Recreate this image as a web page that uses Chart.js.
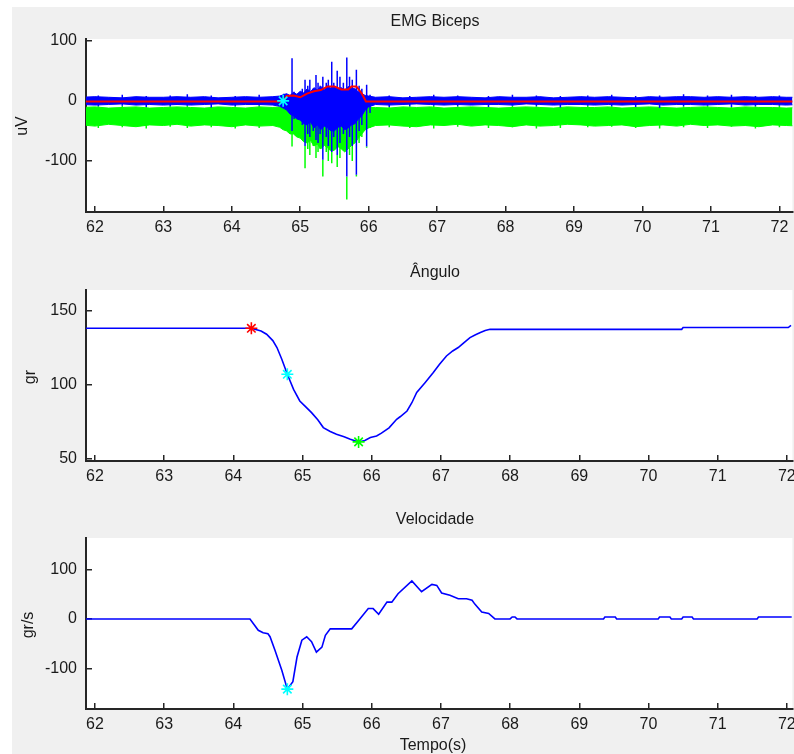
<!DOCTYPE html>
<html>
<head>
<meta charset="utf-8">
<script src="https://cdn.jsdelivr.net/npm/chart.js@4.4.0/dist/chart.umd.min.js"></script>
<style>
  html, body { margin: 0; padding: 0; background: #fff; }
  body { width: 794px; height: 754px; position: relative; overflow: hidden;
         font-family: "Liberation Sans", Arial, sans-serif; color: #1a1a1a; }
  #fig { position: absolute; left: 12px; top: 7px; right: 0; bottom: 0; background: #f0f0f0; }
  canvas { position: absolute; left: 0; }
  .title { position: absolute; font-size: 16px; line-height: 18px; width: 300px; text-align: center; }
  .ylab { position: absolute; font-size: 16px; line-height: 18px; width: 80px; height: 18px;
          text-align: center; transform: rotate(-90deg); }
</style>
</head>
<body>
<div id="fig"></div>
<canvas id="emg" width="800" height="250" style="top:0px"></canvas>
<canvas id="ang" width="800" height="250" style="top:250px"></canvas>
<canvas id="vel" width="800" height="254" style="top:500px"></canvas>

<div class="title" style="left:285px; top:12px;">EMG Biceps</div>
<div class="title" style="left:285px; top:263px;">Ângulo</div>
<div class="title" style="left:285px; top:510px;">Velocidade</div>
<div class="title" style="left:283px; top:736px;">Tempo(s)</div>
<div class="ylab" style="left:-18px; top:117px;">uV</div>
<div class="ylab" style="left:-10px; top:368px;">gr</div>
<div class="ylab" style="left:-12px; top:616px;">gr/s</div>

<script>
// ---- EMG Biceps ----
// envelope of the noise band, time in seconds
const bandT = [61.8, 62.0, 62.2, 62.4, 62.6, 62.8, 63.0, 63.2, 63.4, 63.6, 63.8, 64.0, 64.2, 64.4, 64.6,
  64.70, 64.75, 64.80, 64.85, 64.90, 64.95, 65.00, 65.05, 65.10, 65.15, 65.20, 65.25, 65.30, 65.35,
  65.40, 65.45, 65.50, 65.55, 65.60, 65.65, 65.70, 65.75, 65.80, 65.85, 65.90, 65.95, 66.00,
  66.1, 66.3, 66.5, 66.7, 66.9, 67.1, 67.3, 67.5, 67.7, 67.9, 68.1, 68.3, 68.5, 68.7, 68.9, 69.1,
  69.3, 69.5, 69.7, 69.9, 70.1, 70.3, 70.5, 70.7, 70.9, 71.1, 71.3, 71.5, 71.7, 71.9, 72.1, 72.3];
const blueTop = [6, 7, 6, 5, 7, 6, 6, 7, 6, 7, 5, 6, 7, 6, 7,
  8, 10, 12, 9, 14, 11, 16, 13, 20, 15, 22, 18, 24, 19, 25, 21, 24, 20, 22, 18, 24, 21, 20, 15, 12, 9, 8,
  6, 7, 5, 6, 7, 6, 7, 6, 5, 7, 6, 6, 7, 5, 6, 7, 6, 7, 6, 5, 7, 6, 7, 7, 6, 7, 6, 7, 6, 7, 6, 6];
const blueBot = [-6, -7, -6, -5, -7, -6, -7, -6, -7, -6, -5, -7, -6, -6, -7,
  -9, -12, -15, -22, -25, -30, -32, -38, -40, -35, -45, -40, -48, -42, -45, -50, -50, -44, -42, -48, -45, -40, -38, -30, -25, -15, -10,
  -6, -7, -6, -5, -6, -7, -6, -7, -6, -6, -7, -5, -6, -7, -6, -6, -7, -6, -7, -6, -5, -7, -6, -6, -7, -6, -5, -7, -6, -6, -7, -6];
const greenTop = [-11, -10, -12, -11, -10, -12, -11, -10, -11, -12, -10, -11, -12, -10, -11,
  -10, -10, -10, -10, -10, -10, -10, -10, -10, -10, -10, -10, -10, -10, -10, -10, -10, -10, -10, -10, -10, -10, -10, -10, -10, -10, -11,
  -11, -12, -10, -11, -10, -12, -11, -10, -11, -12, -11, -10, -11, -12, -10, -11, -11, -10, -12, -11, -10, -11, -12, -11, -10, -11, -12, -10, -11, -11, -12, -11];
const greenBot = [-40, -42, -39, -41, -43, -40, -41, -39, -42, -40, -41, -43, -40, -42, -41,
  -44, -48, -50, -55, -55, -60, -62, -68, -70, -66, -75, -72, -80, -74, -78, -84, -82, -76, -80, -85, -80, -74, -70, -62, -55, -48, -45,
  -41, -40, -42, -43, -40, -41, -39, -42, -40, -41, -43, -40, -42, -41, -39, -40, -42, -41, -40, -43, -41, -40, -42, -39, -41, -40, -42, -41, -43, -40, -41, -42];

// small noise spikes outside the burst
const noiseT = [62.05, 62.4, 62.75, 63.1, 63.35, 63.7, 64.05, 64.4, 66.3, 66.6, 66.95, 67.3, 67.75, 68.1,
  68.45, 68.8, 69.2, 69.55, 69.9, 70.25, 70.6, 70.95, 71.3, 71.65, 72.0];
const noiseHi = [9, 10, 8, 9, 11, 9, 8, 10, 9, 8, 10, 9, 8, 10, 9, 8, 9, 10, 8, 9, 11, 9, 10, 8, 9];
const noiseLo = [-9, -8, -10, -9, -8, -11, -9, -8, -10, -9, -8, -9, -10, -8, -9, -11, -8, -9, -10, -12, -9, -8, -10, -9, -8];
const noiseGreenLo = [-45, -44, -46, -43, -45, -44, -46, -45, -44, -45, -46, -43, -45, -44, -46, -45, -44, -43, -45, -46, -44, -45, -43, -46, -44];

// spikes during the contraction burst
const spikeT = [64.76, 64.88, 64.91, 64.97, 65.03, 65.07, 65.11, 65.14, 65.19, 65.23, 65.26, 65.29, 65.33, 65.38,
  65.41, 65.46, 65.49, 65.54, 65.58, 65.63, 65.68, 65.72, 65.76, 65.82, 65.86, 65.90, 65.97, 66.02];
const blueHi = [12, 71, 15, 10, 20, 35, 25, 35, 20, 43, 30, 25, 40, 30, 35, 65, 30, 50, 40, 30, 72, 40, 35, 52, 25, 20, 27, 10];
const blueLo = [-8, -50, -30, -25, -40, -75, -55, -60, -50, -65, -70, -55, -98, -60, -75, -85, -60, -90, -70, -55, -126, -60, -75, -123, -50, -40, -76, -20];
const greenLo = [-45, -76, -50, -45, -60, -112, -80, -90, -75, -95, -85, -80, -126, -85, -100, -104, -80, -110, -95, -80, -164, -90, -100, -126, -70, -60, -78, -45];

// red envelope
const envT = [61.8, 64.75, 64.8, 64.9, 65.0, 65.1, 65.2, 65.3, 65.4, 65.5, 65.6, 65.7, 65.75, 65.82, 65.9, 65.96, 72.3];
const envV = [-1, -1, 8, 9, 6, 12, 16, 18, 24, 24, 19, 19, 24, 24, 12, -1, -1];

const emgOnsetT = [64.75];
const emgOnsetV = [0];

// ---- Ângulo ----
const angT = [61.87, 64.26, 64.40, 64.48, 64.57, 64.63, 64.70, 64.78, 64.87, 64.96, 65.05, 65.13, 65.22, 65.30,
  65.40, 65.49, 65.60, 65.69, 65.81, 65.90, 65.98, 66.07, 66.14, 66.25, 66.36, 66.41, 66.51, 66.58, 66.65,
  66.77, 66.89, 66.98, 67.08, 67.17, 67.25, 67.33, 67.42, 67.50, 67.57, 67.64, 67.71, 70.48, 70.50, 72.02, 72.06];
const angV = [138.3, 138.3, 136.5, 134.3, 130, 125.3, 117.4, 107.2, 97, 89.2, 85, 81.3, 76.5, 71.2,
  68.5, 66.7, 65, 63.3, 61.5, 62.5, 64.5, 65.5, 67.4, 71, 76.8, 78.5, 82.4, 88, 94.9,
  101.5, 108.4, 114, 119.6, 123, 125.3, 128.5, 132, 134, 135.4, 136.8, 137.6, 137.6, 138.8, 138.8, 140.3];
const angStartT = [64.26], angStartV = [138.3];
const angMidT = [64.78], angMidV = [107.2];
const angMinT = [65.81], angMinV = [61.5];

// ---- Velocidade ----
const velT = [61.87, 64.24, 64.36, 64.43, 64.50, 64.53, 64.60, 64.70, 64.78, 64.86, 64.92, 64.99, 65.06, 65.13,
  65.20, 65.28, 65.33, 65.40, 65.71, 65.81, 65.95, 66.02, 66.10, 66.22, 66.29, 66.38, 66.58, 66.72, 66.87,
  66.94, 67.01, 67.13, 67.25, 67.37, 67.45, 67.49, 67.59, 67.69, 67.78, 68.00, 68.03, 68.07, 68.10, 69.35,
  69.37, 69.52, 69.54, 70.14, 70.16, 70.31, 70.33, 70.48, 70.50, 70.63, 70.65, 71.57, 71.59, 72.07];
const velV = [0, 0, -23, -28, -30, -36, -63, -104, -142, -127, -77, -43, -36, -46,
  -67, -57, -33, -20, -20, -3, 21, 21, 9.5, 34, 34, 51, 77, 55, 70,
  68, 52.5, 48, 41, 41, 38, 30, 14, 11, 0, 0, 4, 4, 0, 0,
  4, 4, 0, 0, 4, 4, 0, 0, 4, 4, 0, 0, 4, 4];
const velPeakT = [64.78], velPeakV = [-142];

const pts = (xs, ys) => xs.map((x, i) => ({ x, y: ys[i] }));
const spikes = (xs, hi, lo) => xs.flatMap((x, i) => [{ x, y: hi[i] }, { x, y: lo[i] }, { x, y: null }]);

const FONT = { family: '"Liberation Sans", Arial, sans-serif', size: 16 };
const AXIS = '#262626';

const whiteArea = {
  id: 'whiteArea',
  beforeDraw(chart) {
    const { ctx, chartArea: a } = chart;
    ctx.save();
    ctx.fillStyle = '#fff';
    ctx.fillRect(a.left, a.top, a.right - a.left, a.bottom - a.top);
    ctx.restore();
  },
};

const line = (data, color, width, extra) => Object.assign({
  data, borderColor: color, backgroundColor: color, borderWidth: width,
  pointRadius: 0, fill: false, spanGaps: false,
}, extra || {});

const star = (xs, ys, color) => ({
  data: pts(xs, ys), showLine: false, pointStyle: 'star', pointRadius: 6,
  borderColor: color, backgroundColor: color, pointBorderWidth: 1.6,
});

const makeChart = (id, datasets, xMax, yMin, yMax, yStep, top, axisH) => {
  const ctx = document.getElementById(id).getContext('2d');
  return new Chart(ctx, {
    type: 'line',
    data: { datasets },
    options: {
      responsive: false,
      animation: false,
      events: [],
      layout: { padding: { left: 0, right: 2, top, bottom: 0 } },
      plugins: { legend: { display: false }, tooltip: { enabled: false } },
      scales: {
        x: {
          type: 'linear', min: 61.87, max: xMax,
          ticks: { stepSize: 1, includeBounds: false, padding: 12, color: '#1a1a1a', font: FONT, maxRotation: 0 },
          grid: { drawOnChartArea: false, drawTicks: true, tickLength: -6, color: AXIS, lineWidth: 1.5 },
          border: { color: AXIS, width: 2 },
          afterFit: (s) => { s.height = axisH; s.paddingLeft = 0; s.paddingRight = 0; },
        },
        y: {
          min: yMin, max: yMax,
          ticks: { stepSize: yStep, includeBounds: false, padding: 15, color: '#1a1a1a', font: FONT },
          grid: { drawOnChartArea: false, drawTicks: true, tickLength: -6, color: AXIS, lineWidth: 1.5 },
          border: { color: AXIS, width: 2 },
          afterFit: (s) => { s.width = 86; s.paddingTop = 0; s.paddingBottom = 0; },
        },
      },
    },
    plugins: [whiteArea],
  });
};

// datasets listed top-most first (Chart.js draws index 0 last)
makeChart('emg', [
  star(emgOnsetT, emgOnsetV, '#00ffff'),
  line(pts(envT, envV), '#ff0000', 2),
  line(spikes(spikeT, blueHi, blueLo), '#0000ff', 1.5),
  line(spikes(noiseT, noiseHi, noiseLo), '#0000ff', 1.5),
  line(pts(bandT, blueTop), '#0000ff', 1, { fill: '+1' }),
  line(pts(bandT, blueBot), '#0000ff', 1),
  line(spikes(spikeT, blueLo, greenLo), '#00ff00', 1.5),
  line(spikes(noiseT, noiseLo, noiseGreenLo), '#00ff00', 1.5),
  line(pts(bandT, greenTop), '#00ff00', 1, { fill: '+1' }),
  line(pts(bandT, greenBot), '#00ff00', 1),
], 72.19, -185, 103, 100, 39, 38);

makeChart('ang', [
  star(angStartT, angStartV, '#ff0000'),
  star(angMidT, angMidV, '#00ffff'),
  star(angMinT, angMinV, '#00ff00'),
  line(pts(angT, angV), '#0000ff', 1.6),
], 72.08, 48.6, 164.2, 50, 40, 39);

makeChart('vel', [
  star(velPeakT, velPeakV, '#00ffff'),
  line(pts(velT, velV), '#0000ff', 1.6),
], 72.08, -182.2, 163.8, 100, 38, 45);
</script>
</body>
</html>
